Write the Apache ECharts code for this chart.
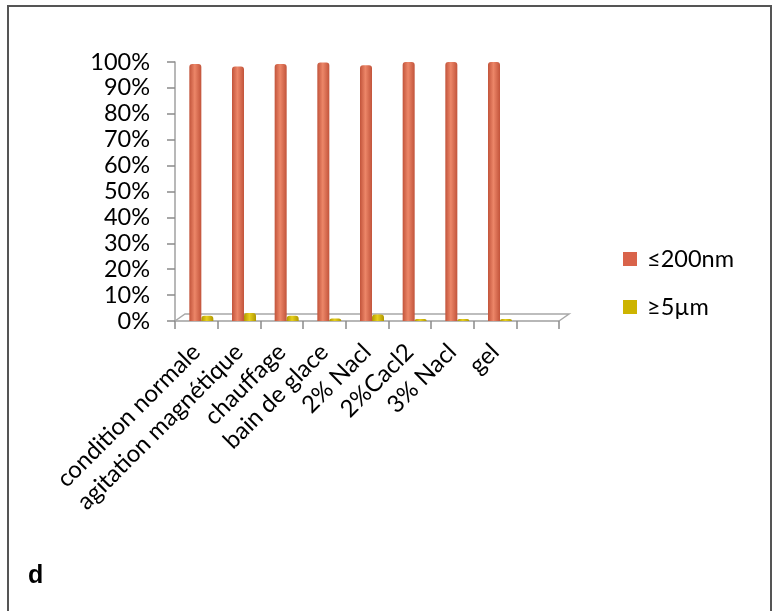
<!DOCTYPE html>
<html>
<head>
<meta charset="utf-8">
<script src="https://cdn.jsdelivr.net/npm/echarts@6/dist/echarts.min.js"></script>
<style>
html,body{margin:0;padding:0;background:#fff;}
#frame{position:absolute;left:7px;top:5px;width:765px;height:620px;border:2px solid #555;border-bottom:none;box-sizing:border-box;}
#main{position:absolute;left:0;top:0;width:779px;height:611px;}
</style>
</head>
<body>
<div id="frame"></div>
<div id="main"></div>
<script>
// ---- data ----
const categories = ['condition normale','agitation magnétique','chauffage','bain de glace','2% Nacl','2%Cacl2','3% Nacl','gel',''];
const seriesNames = ['\u2264200nm','\u22655\u00b5m'];
const small200 = [99.2, 98.3, 99.2, 99.8, 98.7, 100, 100, 100, null];
const large5 = [2.0, 3.1, 2.0, 1.0, 2.5, 0.8, 0.8, 0.8, null];
const yTicks = [0,10,20,30,40,50,60,70,80,90,100];

const FONT = 'Lato';
const FS = 23.5;
const chart = echarts.init(document.getElementById('main'), null, {renderer:'canvas'});

function cyl(c1, c2){
  return new echarts.graphic.LinearGradient(0,0,1,0,[
    {offset:0,color:c1},{offset:0.45,color:c2},{offset:1,color:c1}
  ]);
}

const option = {
  backgroundColor:'transparent',
  animation:false,
  textStyle:{fontFamily:FONT},
  grid:{left:175,right:220,top:62,bottom:290,containLabel:false},
  legend:{
    orient:'vertical',
    left:623, top:247, padding:0,
    itemWidth:14, itemHeight:14, itemGap:24,
    icon:'rect',
    textStyle:{fontFamily:FONT,fontSize:FS,color:'#000',padding:[0,0,0,5]},
    data:[
      {name:seriesNames[0],itemStyle:{color:'#D9634A'}},
      {name:seriesNames[1],itemStyle:{color:'#CDB400'}}
    ]
  },
  xAxis:{
    type:'category',
    data:categories,
    boundaryGap:true,
    axisLine:{lineStyle:{color:'#A0A0A0',width:1.5}},
    axisTick:{show:true,length:8,interval:0,lineStyle:{color:'#8A8A8A',width:1.5}},
    axisLabel:{interval:0,rotate:45,fontFamily:FONT,fontSize:24,color:'#000',margin:27}
  },
  yAxis:{
    type:'value',
    min:0,max:100,interval:10,
    axisLine:{show:true,lineStyle:{color:'#A0A0A0',width:1.5}},
    axisTick:{show:true,length:8,lineStyle:{color:'#8A8A8A',width:1.5}},
    splitLine:{show:false},
    axisLabel:{fontFamily:FONT,fontSize:FS,color:'#000',margin:25,
      formatter:function(v){return v+'%';}}
  },
  series:[
    // empty spacer that reproduces the depth offset of the 3D clusters
    {name:'_depth',type:'bar',data:categories.map(function(){return null;}),barWidth:10,barGap:'0%',silent:true},
    {name:seriesNames[0],type:'bar',data:small200,barWidth:12,barGap:'0%',
     itemStyle:{color:cyl('#C2543B','#EC8668'),borderRadius:[3,3,0,0]}},
    {name:seriesNames[1],type:'bar',data:large5,barWidth:12,barGap:'0%',
     itemStyle:{color:cyl('#B09700','#E6CF1C'),borderRadius:[3,3,0,0]}}
  ]
};
chart.setOption(option);

// 3D floor outline (decoration), positioned from the axes
function drawFloor(){
  const n = categories.length;
  const p0 = chart.convertToPixel({gridIndex:0},[0,0]);
  const half = (chart.convertToPixel({gridIndex:0},[1,0])[0]-p0[0])/2;
  const xl = p0[0]-half, xr = chart.convertToPixel({gridIndex:0},[n-1,0])[0]+half;
  const y = p0[1];
  const dx = 10, dy = 7;
  chart.setOption({graphic:[
    {type:'polyline',z:1,silent:true,
     shape:{points:[[xl,y],[xl+dx,y-dy],[xr+dx,y-dy],[xr,y]]},
     style:{stroke:'#A8A8A8',lineWidth:1.5,fill:null}},
    {type:'text',left:28,top:564,silent:true,
     style:{text:'d',font:'bold 25px "Liberation Sans", Arial',fill:'#000'}}
  ]});
}
drawFloor();
</script>
</body>
</html>
